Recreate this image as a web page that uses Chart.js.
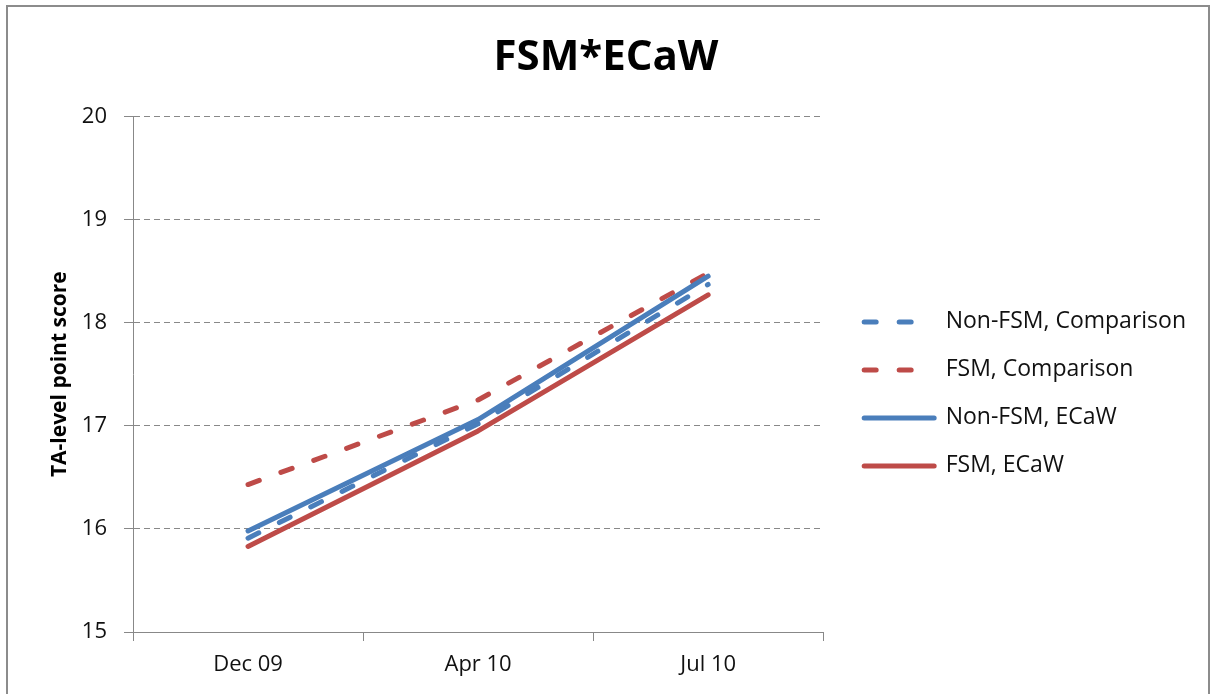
<!DOCTYPE html>
<html>
<head>
<meta charset="utf-8">
<script src="https://cdn.jsdelivr.net/npm/chart.js@4.4.1/dist/chart.umd.min.js"></script>
<style>
  body { margin: 0; background: #fff; overflow: hidden; }
  #wrap { position: relative; width: 1212px; height: 694px; }
  #frame {
    position: absolute; left: 6px; top: 5px; width: 1200px; height: 700px;
    border: 2px solid #8c8c8c; border-bottom: none;
  }
  #myChart { position: absolute; left: 0; top: 0; }
</style>
</head>
<body>
<div id="wrap">
  <div id="frame"></div>
  <canvas id="myChart" width="1212" height="694"></canvas>
</div>
<script>
const categories = ["Dec 09", "Apr 10", "Jul 10"];
const nonFsmComparison = [15.91, 17.02, 18.37];
const fsmComparison = [16.43, 17.25, 18.48];
const nonFsmEcaw = [15.98, 17.06, 18.45];
const fsmEcaw = [15.83, 16.95, 18.27];

const blue = "#4a7ebb";
const red = "#be4b48";
const font = "'Open Sans', sans-serif";
const lineW = 5;
const dash = [12, 23];

// legend entries drawn as short lines, dashed like their series
function legendLabels(chart) {
  const items = Chart.defaults.plugins.legend.labels.generateLabels(chart);
  items.forEach((item) => {
    const ds = chart.data.datasets[item.datasetIndex];
    item.lineWidth = lineW;
    item.lineDash = ds.borderDash || [];
    item.lineCap = "round";
    item.strokeStyle = ds.borderColor;
    item.fillStyle = ds.borderColor;
    item.pointStyle = "line";
  });
  return items;
}

new Chart("myChart", {
  type: "line",
  data: {
    labels: categories,
    datasets: [
      {
        label: "Non-FSM, Comparison",
        data: nonFsmComparison,
        borderColor: blue,
        backgroundColor: blue,
        borderDash: dash,
        order: 4,
      },
      {
        label: "FSM, Comparison",
        data: fsmComparison,
        borderColor: red,
        backgroundColor: red,
        borderDash: dash,
        order: 3,
      },
      {
        label: "Non-FSM, ECaW",
        data: nonFsmEcaw,
        borderColor: blue,
        backgroundColor: blue,
        order: 2,
      },
      {
        label: "FSM, ECaW",
        data: fsmEcaw,
        borderColor: red,
        backgroundColor: red,
        order: 1,
      },
    ],
  },
  options: {
    responsive: false,
    animation: false,
    layout: { padding: { left: 16, top: 0, right: 16, bottom: 0 } },
    elements: {
      line: { borderWidth: lineW, tension: 0, fill: false, borderCapStyle: "round", borderJoinStyle: "round" },
      point: { radius: 0, hoverRadius: 0 },
    },
    plugins: {
      title: {
        display: true,
        text: "FSM*ECaW",
        color: "#000",
        font: { family: font, size: 42, weight: "bold" },
        padding: { top: 33, bottom: 33 },
      },
      legend: {
        position: "right",
        align: "start",
        maxWidth: 400,
        title: { display: true, text: "", font: { size: 12 }, padding: { top: 271, bottom: 0 } },
        labels: {
          usePointStyle: true,
          pointStyle: "line",
          pointStyleWidth: 70,
          padding: 25,
          color: "#111",
          font: { family: font, size: 23 },
          generateLabels: legendLabels,
          sort: (a, b) => a.datasetIndex - b.datasetIndex,
        },
      },
      tooltip: { enabled: false },
    },
    scales: {
      x: {
        offset: true,
        grid: { drawOnChartArea: false, offset: true, tickLength: 9, color: "#888" },
        border: { color: "#888", width: 1 },
        ticks: { color: "#111", padding: 11, font: { family: font, size: 22 } },
        afterFit: (scale) => { scale.height = 62; },
      },
      y: {
        min: 15,
        max: 20,
        ticks: { stepSize: 1, color: "#111", padding: 17, font: { family: font, size: 22 } },
        grid: { color: "#888", tickLength: 9, tickBorderDash: [] },
        border: { color: "#888", width: 1, dash: [6, 4] },
        title: {
          display: true,
          text: "TA-level point score",
          color: "#000",
          font: { family: font, size: 21, weight: "bold" },
          padding: { top: 31 },
        },
        afterFit: (scale) => { scale.width = 117; },
      },
      gap: {
        position: "right",
        display: true,
        grid: { display: false },
        border: { display: false },
        ticks: { display: false },
        afterFit: (scale) => { scale.width = 16; },
      },
    },
  },
});
</script>
</body>
</html>
